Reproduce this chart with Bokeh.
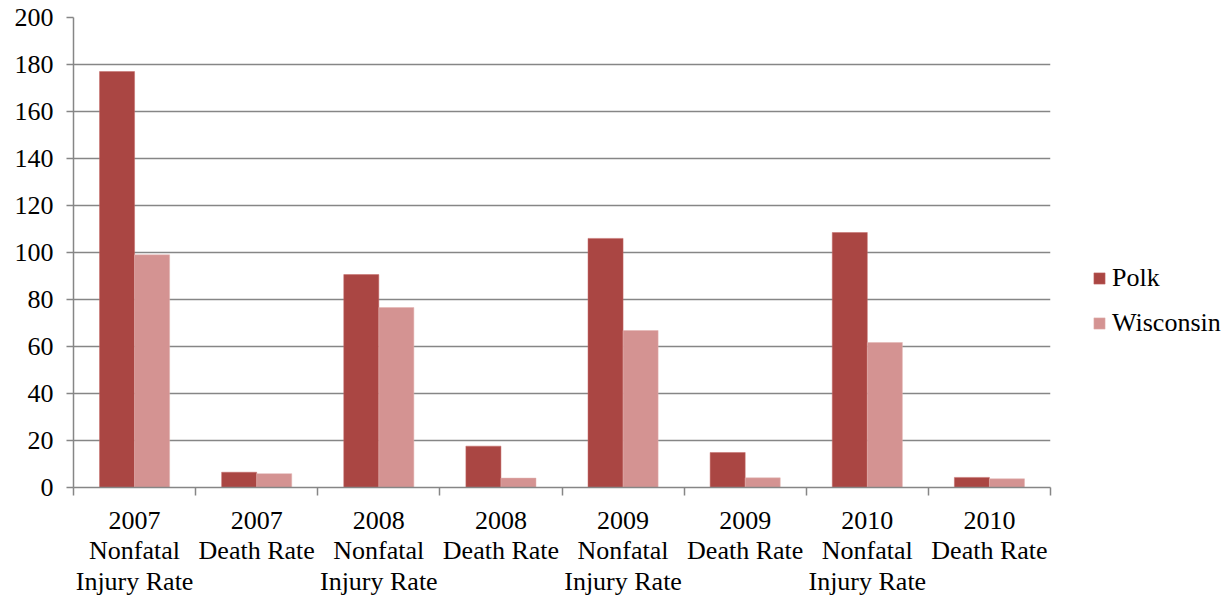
import numpy as np
from bokeh.plotting import figure
from bokeh.models import (ColumnDataSource, Range1d, FixedTicker, Legend, LegendItem)
from bokeh.embed import file_html
from bokeh.resources import INLINE

categories = ["2007\nNonfatal\nInjury Rate", "2007\nDeath Rate",
              "2008\nNonfatal\nInjury Rate", "2008\nDeath Rate",
              "2009\nNonfatal\nInjury Rate", "2009\nDeath Rate",
              "2010\nNonfatal\nInjury Rate", "2010\nDeath Rate"]
polk = [177.0, 6.5, 90.6, 17.6, 106.0, 14.9, 108.5, 4.3]
wisconsin = [99.0, 5.9, 76.6, 4.0, 66.8, 4.1, 61.7, 3.7]
y_ticks = [0, 20, 40, 60, 80, 100, 120, 140, 160, 180, 200]

FONT = "Liberation Serif"
FS = "26px"
GRID = "#868686"
BAR_W = 0.287

pos = np.arange(1, len(categories) + 1)
src = ColumnDataSource(dict(x_polk=pos - BAR_W / 2, x_wis=pos + BAR_W / 2,
                            polk=polk, wis=wisconsin))

p = figure(frame_width=977, frame_height=470, output_backend="svg", toolbar_location=None,
           x_range=Range1d(0.5, len(categories) + 0.5), y_range=Range1d(0, 200),
           min_border_left=73, min_border_right=0, min_border_top=17, min_border_bottom=0)
p.outline_line_color = None
p.background_fill_color = "white"
p.border_fill_color = "white"

r1 = p.vbar(x="x_polk", top="polk", width=BAR_W, source=src,
            fill_color="#AA4643", line_color="#C46A68", line_width=0.5)
r2 = p.vbar(x="x_wis", top="wis", width=BAR_W, source=src,
            fill_color="#D49392", line_color="#E2B2B1", line_width=0.5)

# x axis
p.xaxis.ticker = FixedTicker(ticks=list(pos), minor_ticks=list(np.arange(0.5, len(categories) + 1, 1.0)))
p.xaxis.major_label_overrides = {int(i): c for i, c in zip(pos, categories)}
p.xaxis.major_tick_line_color = None
p.xaxis.major_tick_out = 0
p.xaxis.major_tick_in = 0
p.xaxis.minor_tick_out = 8
p.xaxis.minor_tick_in = 0
p.xaxis.minor_tick_line_color = GRID
p.xaxis.minor_tick_line_width = 1.5
p.xaxis.axis_line_color = GRID
p.xaxis.axis_line_width = 1.5
p.xaxis.major_label_text_font = FONT
p.xaxis.major_label_text_font_size = FS
p.xaxis.major_label_text_color = "black"
p.xaxis.major_label_text_line_height = 1.06
p.xaxis.major_label_standoff = 10
p.xgrid.grid_line_color = None

# y axis
p.yaxis.ticker = FixedTicker(ticks=y_ticks)
p.yaxis.major_tick_out = 7
p.yaxis.major_tick_in = 0
p.yaxis.minor_tick_line_color = None
p.yaxis.major_tick_line_color = GRID
p.yaxis.major_tick_line_width = 1.5
p.yaxis.axis_line_color = GRID
p.yaxis.axis_line_width = 1.5
p.yaxis.major_label_text_font = FONT
p.yaxis.major_label_text_font_size = FS
p.yaxis.major_label_text_color = "black"
p.yaxis.major_label_standoff = 13
p.ygrid.grid_line_color = GRID
p.ygrid.grid_line_width = 1.5

legend = Legend(items=[LegendItem(label="Polk", renderers=[r1]),
                       LegendItem(label="Wisconsin", renderers=[r2])],
                location=(42, 149))
legend.label_text_font = FONT
legend.label_text_font_size = FS
legend.label_text_color = "black"
legend.glyph_width = 14
legend.glyph_height = 14
legend.label_height = 20
legend.spacing = 15
legend.label_standoff = 6
legend.padding = 0
legend.margin = 0
legend.border_line_color = None
legend.background_fill_alpha = 0
p.add_layout(legend, "right")

open("out.html", "w").write(file_html(p, INLINE))
